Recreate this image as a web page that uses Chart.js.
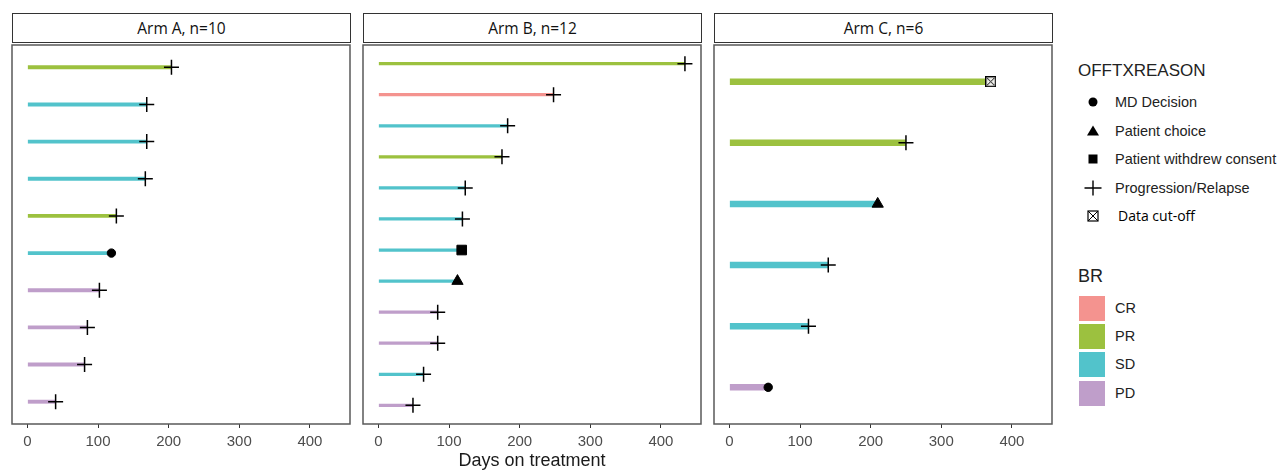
<!DOCTYPE html>
<html>
<head>
<meta charset="utf-8">
<title>Swimmer plot</title>
<script src="https://cdn.jsdelivr.net/npm/chart.js@4.4.1/dist/chart.umd.min.js"></script>
<style>
  body { margin: 0; width: 1287px; height: 470px; background: #fff; position: relative; overflow: hidden;
         font-family: 'Liberation Sans', Arial, sans-serif; }
  .strip { position: absolute; top: 13px; width: 339px; height: 30px; box-sizing: border-box; border: 1px solid #333;
           background: #fff; font-family: 'Open Sans', sans-serif; font-size: 15.5px; line-height: 28px;
           text-align: center; color: #111; }
  canvas.panel { position: absolute; top: 36px; }
  #xtitle { position: absolute; left: 332px; width: 400px; top: 450px; text-align: center; font-size: 18px; color: #1a1a1a; }
  .lg-title { position: absolute; left: 1078px; font-size: 17px; color: #222; }
  .lg-item { position: absolute; left: 1115px; font-size: 14.5px; color: #222; line-height: 18px; }
  .lg-sym { position: absolute; left: 1083px; width: 20px; height: 20px; }
  .lg-box { position: absolute; left: 1079px; width: 26px; height: 25px; }
</style>
</head>
<body>
<div class="strip" style="left:12px">Arm A, n=10</div>
<div class="strip" style="left:363px">Arm B, n=12</div>
<div class="strip" style="left:714px">Arm C, n=6</div>
<canvas class="panel" id="armA" width="362" height="422" style="left:0px"></canvas>
<canvas class="panel" id="armB" width="362" height="422" style="left:351px"></canvas>
<canvas class="panel" id="armC" width="362" height="422" style="left:702px"></canvas>
<div id="xtitle">Days on treatment</div>

<div class="lg-title" style="top:61px">OFFTXREASON</div>
<svg class="lg-sym" style="top:92px" viewBox="0 0 20 20"><circle cx="10" cy="10" r="4.5" fill="#000"/></svg>
<div class="lg-item" style="top:93px">MD Decision</div>
<svg class="lg-sym" style="top:121px" viewBox="0 0 20 20"><polygon points="10,4.5 16,14.5 4,14.5" fill="#000"/></svg>
<div class="lg-item" style="top:122px">Patient choice</div>
<svg class="lg-sym" style="top:149px" viewBox="0 0 20 20"><rect x="5.5" y="5.5" width="9" height="9" fill="#000"/></svg>
<div class="lg-item" style="top:150px">Patient withdrew consent</div>
<svg class="lg-sym" style="top:178px" viewBox="0 0 20 20"><path d="M1.5 10H18.5M10 2.5V17.5" stroke="#000" stroke-width="1.4"/></svg>
<div class="lg-item" style="top:179px">Progression/Relapse</div>
<svg class="lg-sym" style="top:206px" viewBox="0 0 20 20"><rect x="5" y="5" width="10" height="10" fill="#fff" stroke="#000" stroke-width="1.2"/><path d="M5 5L15 15M15 5L5 15" stroke="#000" stroke-width="1"/></svg>
<div class="lg-item" style="top:207px; left:1118px; font-family:'Open Sans', sans-serif; font-size:14px; color:#000">Data cut-off</div>

<div class="lg-title" style="top:266px; font-size:18px">BR</div>
<div class="lg-box" style="top:296px; background:#f4938f"></div>
<div class="lg-item" style="top:299px">CR</div>
<div class="lg-box" style="top:324px; background:#9cc13f"></div>
<div class="lg-item" style="top:327px">PR</div>
<div class="lg-box" style="top:352px; background:#52c3cb"></div>
<div class="lg-item" style="top:355px">SD</div>
<div class="lg-box" style="top:381px; background:#bf9eca"></div>
<div class="lg-item" style="top:384px">PD</div>

<script>
'use strict';

// #region ***  Data                                     ***********
const tickValues = [0, 100, 200, 300, 400];
const daysMax = 435;

const armADays = [204, 169, 169, 167, 126, 119, 102, 85, 81, 40];
const armABR = ['PR', 'SD', 'SD', 'SD', 'PR', 'SD', 'PD', 'PD', 'PD', 'PD'];
const armAReason = ['Progression/Relapse', 'Progression/Relapse', 'Progression/Relapse', 'Progression/Relapse',
  'Progression/Relapse', 'MD Decision', 'Progression/Relapse', 'Progression/Relapse', 'Progression/Relapse',
  'Progression/Relapse'];

const armBDays = [434, 248, 183, 175, 123, 119, 118, 112, 84, 84, 64, 49];
const armBBR = ['PR', 'CR', 'SD', 'PR', 'SD', 'SD', 'SD', 'SD', 'PD', 'PD', 'SD', 'PD'];
const armBReason = ['Progression/Relapse', 'Progression/Relapse', 'Progression/Relapse', 'Progression/Relapse',
  'Progression/Relapse', 'Progression/Relapse', 'Patient withdrew consent', 'Patient choice',
  'Progression/Relapse', 'Progression/Relapse', 'Progression/Relapse', 'Progression/Relapse'];

const armCDays = [370, 250, 210, 140, 112, 55];
const armCBR = ['PR', 'PR', 'SD', 'SD', 'SD', 'PD'];
const armCReason = ['Data cut-off', 'Progression/Relapse', 'Patient choice', 'Progression/Relapse',
  'Progression/Relapse', 'MD Decision'];
// #endregion

// #region ***  Styles                                   ***********
const brColors = { CR: '#f4938f', PR: '#9cc13f', SD: '#52c3cb', PD: '#bf9eca' };

const makeCutoffSymbol = function () {
  const c = document.createElement('canvas');
  c.width = 11;
  c.height = 11;
  const g = c.getContext('2d');
  g.fillStyle = '#f4f4f0';
  g.fillRect(0, 0, 11, 11);
  g.strokeStyle = '#000';
  g.lineWidth = 1.3;
  g.strokeRect(0.65, 0.65, 9.7, 9.7);
  g.lineWidth = 1;
  g.beginPath();
  g.moveTo(2, 2); g.lineTo(9, 9);
  g.moveTo(9, 2); g.lineTo(2, 9);
  g.stroke();
  return c;
};

const reasonStyle = {
  'MD Decision': { style: 'circle', r: 4.2, w: 1 },
  'Patient choice': { style: 'triangle', r: 6.5, w: 1 },
  'Patient withdrew consent': { style: 'rect', r: 6.8, w: 1 },
  'Progression/Relapse': { style: 'cross', r: 7.5, w: 1.5 },
  'Data cut-off': { style: makeCutoffSymbol(), r: 6, w: 1 }
};

const panelBorder = {
  id: 'panelBorder',
  afterDraw: function (chart) {
    const a = chart.chartArea;
    const ctx = chart.ctx;
    ctx.save();
    ctx.strokeStyle = '#595959';
    ctx.lineWidth = 1.5;
    ctx.strokeRect(a.left, a.top, a.right - a.left, a.bottom - a.top);
    ctx.restore();
  }
};
// #endregion

// #region ***  Charts                                   ***********
const showArm = function (id, days, br, reason) {
  const n = days.length;
  const pad = daysMax * 0.05;
  const ctx = document.getElementById(id).getContext('2d');
  return new Chart(ctx, {
    type: 'bar',
    data: {
      datasets: [{
        type: 'scatter',
        data: days.map((d, i) => ({ x: d, y: i })),
        pointStyle: (c) => reasonStyle[reason[c.dataIndex]].style,
        pointRadius: (c) => reasonStyle[reason[c.dataIndex]].r,
        pointBorderWidth: (c) => reasonStyle[reason[c.dataIndex]].w,
        pointBackgroundColor: '#000',
        pointBorderColor: '#000',
        order: 0
      }, {
        type: 'bar',
        data: days.map((d, i) => ({ x: d, y: i })),
        backgroundColor: br.map((b) => brColors[b]),
        categoryPercentage: 1,
        barPercentage: 0.175,
        order: 1
      }]
    },
    options: {
      indexAxis: 'y',
      responsive: false,
      animation: false,
      layout: { padding: { left: 12, right: 12, top: 6, bottom: 0 } },
      plugins: { legend: { display: false }, tooltip: { enabled: false } },
      scales: {
        x: {
          type: 'linear',
          min: -pad,
          max: daysMax + pad,
          afterBuildTicks: (s) => { s.ticks = tickValues.map((v) => ({ value: v })); },
          afterFit: (s) => { s.height = 34; },
          border: { display: false },
          grid: { drawOnChartArea: false, drawTicks: true, tickLength: 4, color: '#333', lineWidth: 1 },
          ticks: {
            autoSkip: false,
            maxRotation: 0,
            padding: 5,
            color: '#4d4d4d',
            font: { family: "'Liberation Sans', Arial, sans-serif", size: 15 }
          }
        },
        y: {
          type: 'linear',
          reverse: true,
          offset: false,
          min: -0.6,
          max: n - 0.4,
          display: false
        }
      }
    },
    plugins: [panelBorder]
  });
};

const init = function () {
  showArm('armA', armADays, armABR, armAReason);
  showArm('armB', armBDays, armBBR, armBReason);
  showArm('armC', armCDays, armCBR, armCReason);
};

document.addEventListener('DOMContentLoaded', init);
// #endregion
</script>
</body>
</html>
